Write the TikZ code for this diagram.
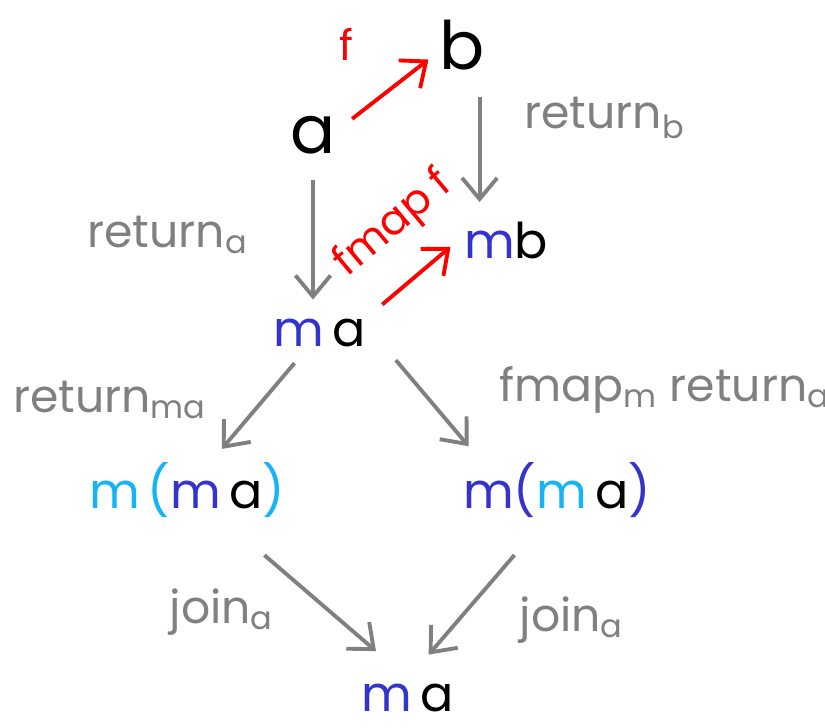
\documentclass[tikz,border=0pt]{standalone}
\usepackage{fontspec}
\setmainfont{Poppins}
\usetikzlibrary{arrows.meta}
\definecolor{mblue}{RGB}{52,52,205}
\definecolor{mcyan}{RGB}{20,180,245}
\definecolor{lgray}{RGB}{128,128,128}
\begin{document}
\begin{tikzpicture}[x=0.01cm, y=-0.01cm, line width=1.1pt,
  big/.style={inner sep=1pt, font=\fontsize{19}{22}\selectfont},
  obj/.style={inner sep=1pt, font=\fontsize{14}{17}\selectfont},
  lbl/.style={inner sep=1pt, text=lgray, font=\fontsize{13}{15}\selectfont},
  flbl/.style={inner sep=1pt, text=red, font=\fontsize{12}{14}\selectfont},
  garr/.style={draw=lgray, -{Straight Barb[length=6pt, width=10pt]}},
  rarr/.style={draw=red, -{Straight Barb[length=6pt, width=10pt]}}]
  \useasboundingbox (0,0) rectangle (825,727);
  % objects
  \node[big] (a) at (313,135) {a};
  \node[big] (b) at (462,45) {b};
  \node[obj] (mb) at (506,240) {\textcolor{mblue}{m}b};
  \node[obj] (ma) at (320,333) {\textcolor{mblue}{m}\,a};
  \node[obj] (mmaL) at (187,490) {\textcolor{mcyan}{m\,(}\textcolor{mblue}{m}\,a\textcolor{mcyan}{)}};
  \node[obj] (mmaR) at (557,490) {\textcolor{mblue}{m(}\textcolor{mcyan}{m}\,a\textcolor{mblue}{)}};
  \node[obj] (bot) at (408,698) {\textcolor{mblue}{m}\,a};
  % arrows
  \draw[rarr, shorten <=4pt, shorten >=2pt] (a.15) -- (b.200);
  \draw[garr, shorten <=6pt, shorten >=4pt] (b.-60) -- (b.-60 |- mb.north);
  \draw[garr, shorten <=6pt, shorten >=4pt] (a.south) -- (a.south |- ma.north);
  \draw[rarr, shorten <=4pt, shorten >=3pt] (ma.north east) -- (mb.west);
  \draw[garr, shorten <=4pt, shorten >=3pt] (ma) -- (mmaL);
  \draw[garr, shorten <=1pt, shorten >=4pt] ([shift={(0.22cm,-0.05cm)}]ma.south east) -- ([xshift=0.2cm]mmaR.north west);
  \draw[garr, shorten <=14pt, shorten >=12pt] ([xshift=0.4cm]mmaL.south) -- (bot.north);
  \draw[garr, shorten <=12pt, shorten >=9pt] ([xshift=-0.15cm]mmaR.south) -- (bot.north);
  % labels
  \node[flbl] (lf) at (346,44) {f};
  \node[lbl] (lretb) at (605,118) {return\textsubscript{b}};
  \node[lbl] (lreta) at (168,235) {return\textsubscript{a}};
  \node[flbl, rotate=40] (lfmapf) at (394,224) {fmap f};
  \node[lbl] (lretma) at (110,400) {return\textsubscript{ma}};
  \node[lbl] (lfmapm) at (665,390) {fmap\textsubscript{m} return\textsubscript{a}};
  \node[lbl] (ljoinL) at (222,612) {join\textsubscript{a}};
  \node[lbl] (ljoinR) at (572,620) {join\textsubscript{a}};
\end{tikzpicture}
\end{document}
